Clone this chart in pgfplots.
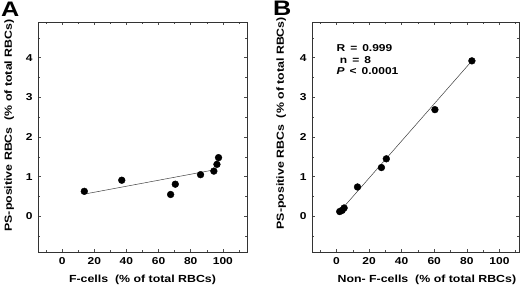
\documentclass[border=0pt]{standalone}
\usepackage{fontspec}
\setmainfont{Liberation Sans}[FakeStretch=1.2]
\usepackage{pgfplots}
\pgfplotsset{compat=1.18}
\pgfplotstableread{
x y
13.8 0.63
37.1 0.91
67.5 0.55
70.4 0.81
86.1 1.05
94.4 1.14
96.3 1.31
97.3 1.48
}\dataA
\pgfplotstableread{
x y
2.0 0.12
3.5 0.15
4.7 0.21
12.9 0.74
27.6 1.23
30.6 1.45
60.4 2.69
83.1 3.92
}\dataB
\begin{document}
\begin{tikzpicture}
\pgfplotsset{
 panel/.style={
  scale only axis, height=230pt,
  xmin=-15, ymin=-0.9, ymax=4.9,
  xtick={0,20,...,100}, minor xtick={-10,10,30,50,70,90,110},
  ytick={0,1,2,3,4}, minor ytick={-0.5,0.5,1.5,2.5,3.5,4.5},
  tick align=inside, major tick length=3pt, minor tick length=1.8pt,
  every tick/.style={black!70, line width=0.5pt},
  axis line style={black!80, line width=0.7pt},
  /pgf/number format/assume math mode=true,
  ticklabel style={font=\fontsize{10}{12}\selectfont\bfseries},
  label style={font=\fontsize{10.3}{12}\selectfont\bfseries},
  yticklabel style={xshift=-2pt},
  xticklabel style={yshift=-2pt},
  ylabel={PS-positive RBCs\ \ (\% of total RBCs)},
 }
}
\begin{axis}[panel, at={(38pt,40pt)}, anchor=south west, width=209pt, xmax=115,
  xlabel={F-cells\ \ (\% of total RBCs)},
  xlabel style={yshift=-4pt},
  ylabel style={at={(ticklabel cs:0.55)}, yshift=5pt}]
\addplot[only marks, mark=*, mark size=3.4pt, black] table {\dataA};
\addplot[black!75, line width=0.5pt] coordinates {(13.8,0.56) (94.4,1.17)};
\end{axis}
\begin{axis}[panel, at={(312pt,40pt)}, anchor=south west, width=207pt, xmax=112,
  xlabel={Non- F-cells\ \ (\% of total RBCs)},
  xlabel style={at={(ticklabel cs:0.555)}, yshift=-4pt},
  ylabel style={at={(ticklabel cs:0.56)}, yshift=7pt}]
\addplot[only marks, mark=*, mark size=3.4pt, black] table {\dataB};
\addplot[black!75, line width=0.5pt] coordinates {(1.8,0.11) (83.1,3.92)};
\node[anchor=north west, align=left, font=\fontsize{10}{11.5}\selectfont\bfseries, inner sep=0pt]
  at (axis cs:0,4.33) {R\,\ =\,\ 0.999\\\ n\,\ =\,\ 8\\\textit{P}\,\ \textless\,\ 0.0001};
\end{axis}
\node[anchor=north west, inner sep=0pt, font=\fontsize{21}{21}\selectfont\bfseries] at (1pt,290pt) {A};
\node[anchor=north west, inner sep=0pt, font=\fontsize{21}{21}\selectfont\bfseries] at (273pt,291pt) {B};
\pgfresetboundingbox
\useasboundingbox (0pt,0pt) rectangle (520pt,292pt);
\end{tikzpicture}
\end{document}
